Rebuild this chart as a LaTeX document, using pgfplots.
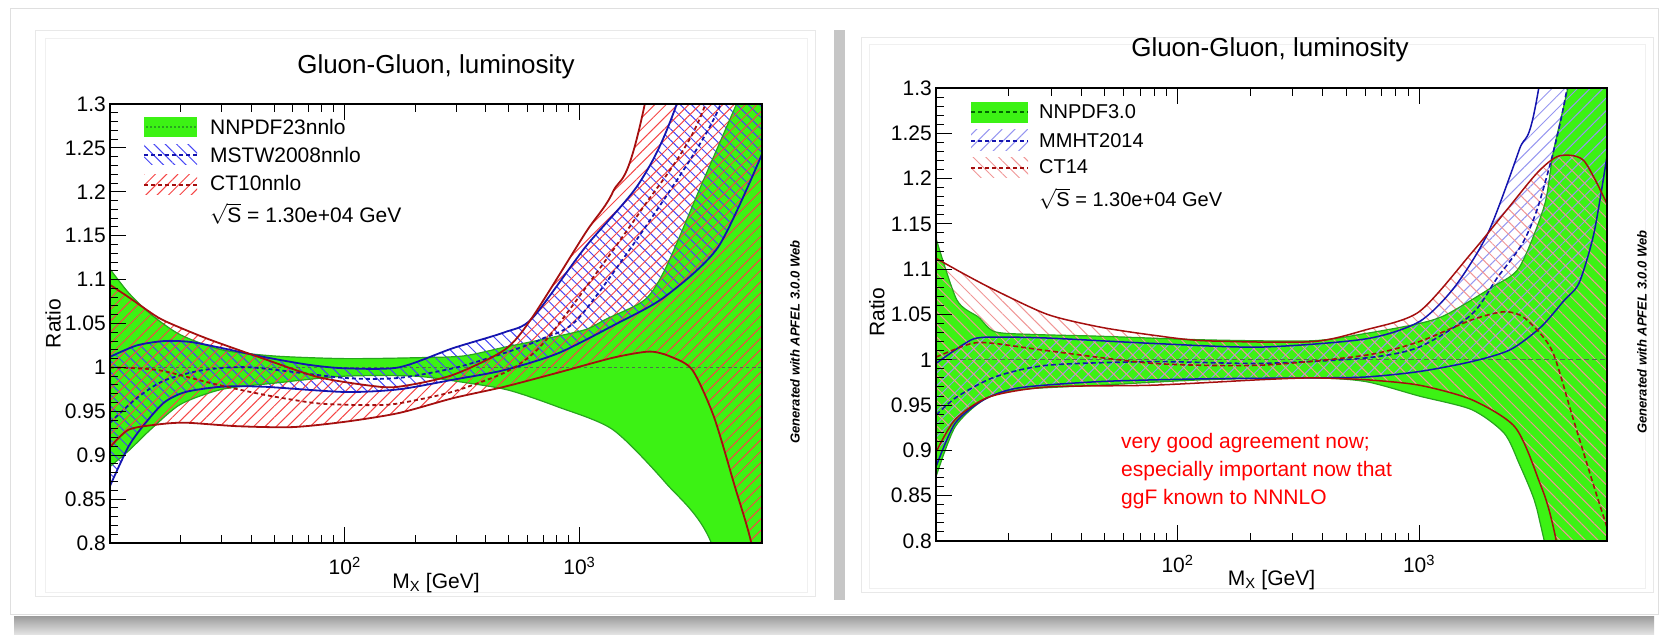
\documentclass[border=0pt]{standalone}
\usepackage{fontspec}
\setmainfont{Liberation Sans}
\usepackage{pgfplots}
\usepackage{pgfplotstable}
\pgfplotsset{compat=1.18}
\usepgfplotslibrary{fillbetween}
\usetikzlibrary{patterns.meta}

\definecolor{ggreen}{RGB}{60,242,20}
\definecolor{gedge}{RGB}{40,165,30}
\definecolor{bline}{RGB}{20,20,175}
\definecolor{rline}{RGB}{165,15,15}
\definecolor{rhatch}{RGB}{245,70,70}
\definecolor{bhatch}{RGB}{70,70,245}
\definecolor{bhatchlt}{RGB}{150,150,240}
\definecolor{rhatchlt}{RGB}{240,150,150}
\definecolor{oneline}{RGB}{80,110,80}

% ---------------- left panel (NNPDF23 / MSTW2008 / CT10) ----------------
\pgfplotstableread{
x y
10 1.112
12 1.085
15 1.06
20 1.037
30 1.02
50 1.013
100 1.01
200 1.011
320 1.013
480 1.023
700 1.032
1060 1.043
1300 1.055
1900 1.077
2340 1.114
3300 1.207
4670 1.3
6000 1.37
}\gUL
\pgfplotstableread{
x y
10 0.887
12 0.905
15 0.93
20 0.958
30 0.975
50 0.982
100 0.99
200 0.99
320 0.983
500 0.974
810 0.955
1390 0.929
2340 0.868
3650 0.8
6000 0.6
}\gLL
\pgfplotstableread{
x y
10 1.012
13 1.025
17 1.03
22 1.029
30 1.022
45 1.012
70 1.003
100 0.999
170 1.0
290 1.022
480 1.04
630 1.056
1060 1.137
1800 1.21
2600 1.3
6000 1.6
}\bUL
\pgfplotstableread{
x y
10 0.865
12 0.91
14 0.935
17 0.96
21 0.972
30 0.978
45 0.978
100 0.972
170 0.975
290 0.986
480 0.997
810 1.016
1400 1.048
2300 1.08
3900 1.137
6000 1.243
}\bLL
\pgfplotstableread{
x y
10 0.937
13 0.965
17 0.985
25 0.997
40 1.0
100 0.988
170 0.988
300 1.0
500 1.018
700 1.033
1000 1.057
2100 1.176
3900 1.293
6000 1.45
}\bCL
\pgfplotstableread{
x y
10 1.094
12 1.08
16 1.057
20 1.045
27 1.031
45 1.01
77 0.989
130 0.979
170 0.978
286 0.991
480 1.02
630 1.057
1060 1.153
1390 1.2
1900 1.3
6000 2.0
}\rUL
\pgfplotstableread{
x y
10 0.909
12 0.929
16 0.935
21 0.937
35 0.933
60 0.932
100 0.938
170 0.948
290 0.965
480 0.978
810 0.994
1390 1.011
1990 1.018
2460 1.012
3030 0.997
3740 0.944
4600 0.864
5400 0.8
6000 0.72
}\rLL
\pgfplotstableread{
x y
10 1.0
16 0.997
27 0.982
45 0.969
77 0.959
130 0.957
170 0.959
286 0.972
480 0.994
630 1.015
820 1.05
1800 1.176
3370 1.293
6000 1.55
}\rCL

% ---------------- right panel (NNPDF3.0 / MMHT2014 / CT14) ----------------
\pgfplotstableread{
x y
10 1.134
12.2 1.066
15 1.047
17.5 1.031
25 1.028
48 1.026
130 1.022
360 1.021
600 1.029
1000 1.04
1300 1.05
2000 1.08
2600 1.102
3300 1.17
3600 1.23
4130 1.3
6000 1.5
}\gUR
\pgfplotstableread{
x y
10 0.871
12 0.926
15.8 0.956
22 0.967
48 0.972
130 0.978
360 0.98
600 0.976
1000 0.96
1650 0.945
2250 0.919
2600 0.885
3000 0.845
3300 0.8
6000 0.5
}\gLR
\pgfplotstableread{
x y
10 0.996
14 1.022
17.5 1.025
29 1.024
80 1.018
220 1.014
600 1.023
1000 1.042
1400 1.08
1930 1.14
2600 1.232
3130 1.3
6000 1.8
}\bUR
\pgfplotstableread{
x y
10 0.882
12 0.93
15.8 0.956
22 0.969
48 0.976
130 0.979
360 0.98
600 0.981
1000 0.987
1650 0.998
2380 1.011
3190 1.036
4000 1.066
4600 1.085
5300 1.14
6000 1.225
}\bLR
\pgfplotstableread{
x y
10 0.939
12.2 0.959
17.5 0.981
29 0.994
80 0.998
220 0.996
600 1.002
1000 1.014
1650 1.05
2100 1.09
2700 1.13
3200 1.18
4100 1.3
6000 1.6
}\bCR
\pgfplotstableread{
x y
10 1.112
13 1.095
17.5 1.077
29 1.05
48 1.036
80 1.027
130 1.021
360 1.02
600 1.033
1000 1.053
1650 1.118
2300 1.165
3100 1.207
3800 1.225
4800 1.22
6000 1.172
}\rUR
\pgfplotstableread{
x y
10 0.898
12 0.934
16.6 0.959
29 0.97
80 0.972
220 0.978
360 0.98
600 0.978
1000 0.972
1650 0.956
2490 0.926
3100 0.87
3700 0.8
6000 0.5
}\rLR
\pgfplotstableread{
x y
10 1.003
14 1.018
17.5 1.018
29 1.01
80 0.996
220 0.994
600 1.005
1000 1.02
1650 1.044
2250 1.053
2740 1.046
3540 1.011
4320 0.937
5300 0.86
6000 0.815
}\rCR

\newcommand{\fs}[1]{\fontsize{#1bp}{#1bp}\selectfont}

\begin{document}
\begin{tikzpicture}
\begin{scope}[x=1bp,y=1bp]
\useasboundingbox (0,0) rectangle (1668,635);
% background card (outlines only, no fills over the axes)
\shade[top color=gray!75, bottom color=gray!20] (14,0) rectangle (1654,18);
\draw[gray!25] (10,21) rectangle (1658,627);
\draw[gray!18, line width=1bp] (35,38) rectangle (815,604);
\draw[gray!12, line width=1bp] (45,42) rectangle (807,596);
\fill[gray!45] (834,35) rectangle (845,605);
\draw[gray!18, line width=1bp] (861,42) rectangle (1653,597);
\draw[gray!12, line width=1bp] (869,46) rectangle (1645,590);
\end{scope}

% ===================== LEFT =====================
\begin{axis}[at={(110bp,92bp)}, anchor=south west,
  width=652bp, height=439bp, scale only axis,
  xmode=log, xmin=10, xmax=6000, ymin=0.8, ymax=1.3,
  axis on top,
  axis line style={line width=1.2bp, black},
  xtick={10,100,1000},
  xticklabels={{},{10\textsuperscript{2}},{10\textsuperscript{3}}},
  ytick={0.8,0.85,0.9,0.95,1,1.05,1.1,1.15,1.2,1.25,1.3},
  yticklabels={0.8,0.85,0.9,0.95,1,1.05,1.1,1.15,1.2,1.25,1.3},
  minor y tick num=4,
  ytick pos=left,
  tick align=inside,
  major tick length=16bp, minor tick length=8bp,
  tick style={black, line width=1bp},
  tick label style={font=\fs{21}},
  yticklabel style={inner sep=0bp, xshift=-4bp, anchor=east},
  xticklabel style={inner sep=0bp, yshift=-14bp, anchor=north},
  label style={font=\fs{21}},
  xlabel={M\textsubscript{X} [GeV]},
  ylabel={Ratio},
  ylabel style={at={(axis description cs:-0.0874,0.5)}, anchor=center},
  xlabel style={at={(axis description cs:0.5,-0.0911)}, anchor=center},
  every axis plot/.append style={smooth, tension=0.45}]
\addplot[draw=none, name path=gU, forget plot] table {\gUL};
\addplot[draw=none, name path=gL, forget plot] table {\gLL};
\addplot[draw=none, name path=bU, forget plot] table {\bUL};
\addplot[draw=none, name path=bL, forget plot] table {\bLL};
\addplot[draw=none, name path=rU, forget plot] table {\rUL};
\addplot[draw=none, name path=rL, forget plot] table {\rLL};
\addplot[fill=ggreen, draw=none] fill between[of=gU and gL];
\addplot[pattern={Lines[angle=-45,distance=8bp,line width=1bp]}, pattern color=bhatch, draw=none] fill between[of=bU and bL];
\addplot[pattern={Lines[angle=45,distance=8bp,line width=1bp]}, pattern color=rhatch, draw=none] fill between[of=rU and rL];
\addplot[gedge, line width=1.2bp] table {\gUL};
\addplot[gedge, line width=1.2bp] table {\gLL};
\addplot[oneline, line width=1.2bp, dash pattern=on 3bp off 3bp] coordinates {(10,1) (6000,1)};
\addplot[bline, line width=1.8bp] table {\bUL};
\addplot[bline, line width=1.8bp] table {\bLL};
\addplot[bline, line width=1.8bp, dash pattern=on 4bp off 3bp] table {\bCL};
\addplot[rline, line width=1.8bp] table {\rUL};
\addplot[rline, line width=1.8bp] table {\rLL};
\addplot[rline, line width=1.8bp, dash pattern=on 4bp off 3bp] table {\rCL};
\end{axis}

% ===================== RIGHT =====================
\begin{axis}[at={(936bp,94bp)}, anchor=south west,
  width=671bp, height=453bp, scale only axis,
  xmode=log, xmin=10, xmax=6000, ymin=0.8, ymax=1.3,
  axis on top,
  axis line style={line width=1.2bp, black},
  xtick={10,100,1000},
  xticklabels={{},{10\textsuperscript{2}},{10\textsuperscript{3}}},
  ytick={0.8,0.85,0.9,0.95,1,1.05,1.1,1.15,1.2,1.25,1.3},
  yticklabels={0.8,0.85,0.9,0.95,1,1.05,1.1,1.15,1.2,1.25,1.3},
  minor y tick num=4,
  ytick pos=left,
  tick align=inside,
  major tick length=16bp, minor tick length=8bp,
  tick style={black, line width=1bp},
  tick label style={font=\fs{21}},
  yticklabel style={inner sep=0bp, xshift=-4bp, anchor=east},
  xticklabel style={inner sep=0bp, yshift=-14bp, anchor=north},
  label style={font=\fs{21}},
  xlabel={M\textsubscript{X} [GeV]},
  ylabel={Ratio},
  ylabel style={at={(axis description cs:-0.088,0.505)}, anchor=center},
  xlabel style={at={(axis description cs:0.5,-0.0861)}, anchor=center},
  every axis plot/.append style={smooth, tension=0.45}]
\addplot[draw=none, name path=gU, forget plot] table {\gUR};
\addplot[draw=none, name path=gL, forget plot] table {\gLR};
\addplot[draw=none, name path=bU, forget plot] table {\bUR};
\addplot[draw=none, name path=bL, forget plot] table {\bLR};
\addplot[draw=none, name path=rU, forget plot] table {\rUR};
\addplot[draw=none, name path=rL, forget plot] table {\rLR};
\addplot[fill=ggreen, draw=none] fill between[of=gU and gL];
\addplot[pattern={Lines[angle=45,distance=9bp,line width=1bp]}, pattern color=bhatchlt, draw=none] fill between[of=bU and bL];
\addplot[pattern={Lines[angle=-45,distance=9bp,line width=1bp]}, pattern color=rhatchlt, draw=none] fill between[of=rU and rL];
\addplot[gedge, line width=1.2bp] table {\gUR};
\addplot[gedge, line width=1.2bp] table {\gLR};
\addplot[oneline, line width=1.2bp, dash pattern=on 5bp off 3bp] coordinates {(10,1) (6000,1)};
\addplot[bline, line width=1.5bp] table {\bUR};
\addplot[bline, line width=1.5bp] table {\bLR};
\addplot[bline, line width=1.6bp, dash pattern=on 5bp off 3bp] table {\bCR};
\addplot[rline, line width=1.5bp] table {\rUR};
\addplot[rline, line width=1.5bp] table {\rLR};
\addplot[rline, line width=1.6bp, dash pattern=on 5bp off 3bp] table {\rCR};
\end{axis}

\begin{scope}[x=1bp,y=1bp]
\node[font=\fs{26}] at (436,568) {Gluon-Gluon, luminosity};
% legend (left)
\fill[ggreen] (144,498) rectangle (197,518);
\draw[gedge, line width=1.5bp, dash pattern=on 2bp off 2bp] (146,508) -- (196,508);
\fill[pattern={Lines[angle=-45,distance=8bp,line width=1bp]}, pattern color=bhatch] (144,470) rectangle (197,490);
\draw[bline, line width=1.8bp, dash pattern=on 4bp off 3bp] (144,480) -- (197,480);
\fill[pattern={Lines[angle=45,distance=8bp,line width=1bp]}, pattern color=rhatch] (144,440) rectangle (197,460);
\draw[rline, line width=1.8bp, dash pattern=on 4bp off 3bp] (144,450) -- (197,450);
\node[anchor=west, font=\fs{21}, inner sep=0pt] at (210,508) {NNPDF23nnlo};
\node[anchor=west, font=\fs{21}, inner sep=0pt] at (210,480) {MSTW2008nnlo};
\node[anchor=west, font=\fs{21}, inner sep=0pt] at (210,452) {CT10nnlo};
\node[anchor=west, font=\fs{21}, inner sep=0pt] at (210,421) {$\sqrt{\mbox{S}}$ = 1.30e+04 GeV};
\node[rotate=90, font=\fs{13}\bfseries\itshape] at (795,293) {Generated with APFEL 3.0.0 Web};

\node[font=\fs{26}] at (1270,585) {Gluon-Gluon, luminosity};
% legend (right)
\fill[ggreen] (971,512) rectangle (1028,533);
\draw[green!40!black, line width=1.3bp, dash pattern=on 4bp off 3bp] (971,523) -- (1028,523);
\fill[pattern={Lines[angle=45,distance=9bp,line width=1bp]}, pattern color=bhatchlt] (971,484) rectangle (1028,505);
\draw[bline, line width=1.6bp, dash pattern=on 4bp off 3bp] (971,494) -- (1028,494);
\fill[pattern={Lines[angle=-45,distance=9bp,line width=1bp]}, pattern color=rhatchlt] (971,457) rectangle (1028,477);
\draw[rline, line width=1.6bp, dash pattern=on 4bp off 3bp] (971,467) -- (1028,467);
\node[anchor=west, font=\fs{20}, inner sep=0pt] at (1039,523) {NNPDF3.0};
\node[anchor=west, font=\fs{20}, inner sep=0pt] at (1039,494) {MMHT2014};
\node[anchor=west, font=\fs{20}, inner sep=0pt] at (1039,468) {CT14};
\node[anchor=west, font=\fs{20}, inner sep=0pt] at (1039,436) {$\sqrt{\mbox{S}}$ = 1.30e+04 GeV};
\node[rotate=90, font=\fs{13}\bfseries\itshape] at (1642,303) {Generated with APFEL 3.0.0 Web};
% annotation
\node[anchor=west, font=\fs{21}, text=red, inner sep=0pt] at (1121,192) {very good agreement now;};
\node[anchor=west, font=\fs{21}, text=red, inner sep=0pt] at (1121,164) {especially important now that};
\node[anchor=west, font=\fs{21}, text=red, inner sep=0pt] at (1121,136) {ggF known to NNNLO};
\end{scope}
\end{tikzpicture}
\end{document}
